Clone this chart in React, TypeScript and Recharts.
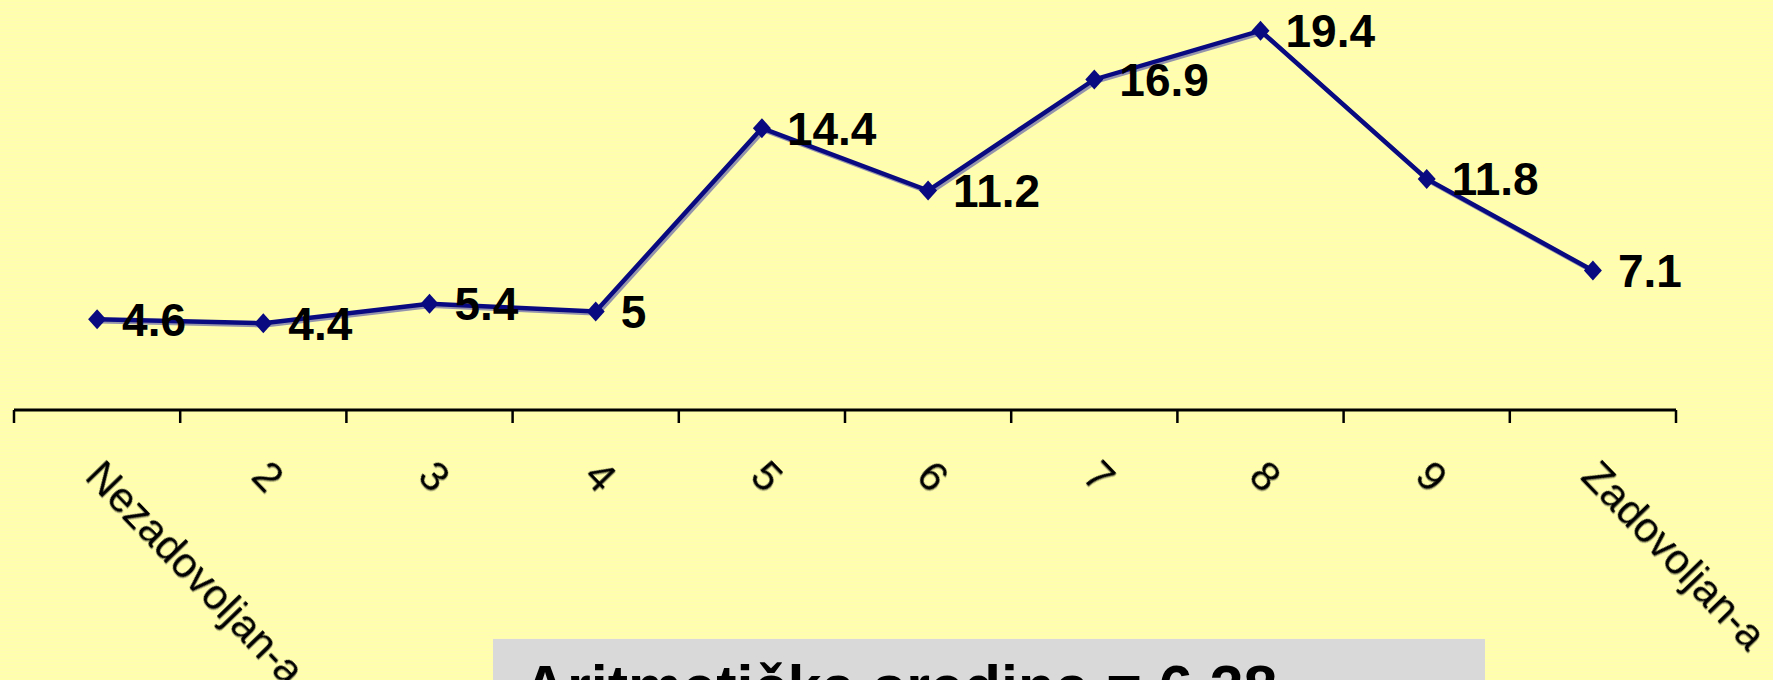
import React from 'react';
import { LineChart, Line, XAxis, YAxis, LabelList } from 'recharts';

// satisfaction scale 1..10
const categories = ['Nezadovoljan-a', '2', '3', '4', '5', '6', '7', '8', '9', 'Zadovoljan-a'];
const values = [4.6, 4.4, 5.4, 5, 14.4, 11.2, 16.9, 19.4, 11.8, 7.1];
const meanLabel = 'Aritmetička sredina = 6.28';

const FONT = "'Liberation Sans', Arial, sans-serif";
const NAVY = '#0A0A80';

const chartData = categories.map((name, i) => ({ idx: i, name, value: values[i] }));
const labelTicks = categories.map((_, i) => i);
const frameTicks = [-0.5, ...categories.map((_, i) => i + 0.5)];

function Diamond(props: any) {
    const { cx, cy, index } = props;
    if (cx == null || cy == null) return null;
    return (
        <polygon
            key={`dot-${index}`}
            points={`${cx},${cy - 10} ${cx + 9},${cy} ${cx},${cy + 10} ${cx - 9},${cy}`}
            fill={NAVY}
        />
    );
}

function CategoryTick(props: any) {
    const { x, y, payload } = props;
    const label = categories[payload.value] ?? '';
    const tx = x + 8;
    return (
        <text
            x={tx}
            y={y}
            dy="0.716em"
            transform={`rotate(46, ${tx}, ${y})`}
            textAnchor="start"
            fontFamily={FONT}
            fontSize={42}
            fill="#000"
            style={{ filter: 'drop-shadow(1px 1px 0 rgba(0,0,0,0.35))' }}
        >
            {label}
        </text>
    );
}

export default function App() {
    return (
        <div
            style={{
                position: 'absolute',
                left: 0,
                top: 0,
                width: 1773,
                height: 680,
                overflow: 'hidden',
                background:
                    'repeating-linear-gradient(180deg, #FFFFAC 0px, #FFFFAC 2px, #FFFBB6 2px, #FFFBB6 3px)',
            }}
        >
            <LineChart
                width={1773}
                height={680}
                data={chartData}
                margin={{ top: 19, right: 97, bottom: 269, left: 14 }}
            >
                <YAxis hide type="number" domain={[0, 20]} />
                <XAxis
                    xAxisId="frame"
                    dataKey="idx"
                    type="number"
                    domain={[-0.5, categories.length - 0.5]}
                    allowDataOverflow
                    ticks={frameTicks}
                    interval={0}
                    height={1}
                    tick={() => <g />}
                    tickSize={13}
                    axisLine={{ stroke: '#000', strokeWidth: 3 }}
                    tickLine={{ stroke: '#000', strokeWidth: 2.5 }}
                />
                <XAxis
                    xAxisId="cat"
                    dataKey="idx"
                    type="number"
                    domain={[-0.5, categories.length - 0.5]}
                    ticks={labelTicks}
                    interval={0}
                    height={1}
                    axisLine={false}
                    tickLine={false}
                    tickSize={0}
                    tickMargin={48}
                    tick={<CategoryTick />}
                />
                <Line
                    xAxisId="cat"
                    dataKey="value"
                    stroke={NAVY}
                    strokeWidth={4.5}
                    dot={<Diamond />}
                    activeDot={false}
                    isAnimationActive={false}
                    style={{ filter: 'drop-shadow(2px 2px 0 rgba(60,60,170,0.55))' }}
                >
                    <LabelList
                        dataKey="value"
                        position="right"
                        offset={25}
                        fontFamily={FONT}
                        fontSize={46}
                        fontWeight="bold"
                        fill="#000"
                    />
                </Line>
            </LineChart>
            <div
                style={{
                    position: 'absolute',
                    left: 493,
                    top: 639,
                    width: 992,
                    height: 41,
                    background: '#D9D9D9',
                    overflow: 'hidden',
                }}
            >
                <svg width={992} height={41} style={{ display: 'block' }}>
                    <text x={30} y={69} fontFamily={FONT} fontSize={61} fontWeight="bold" fill="#000">
                        {meanLabel}
                    </text>
                </svg>
            </div>
        </div>
    );
}
